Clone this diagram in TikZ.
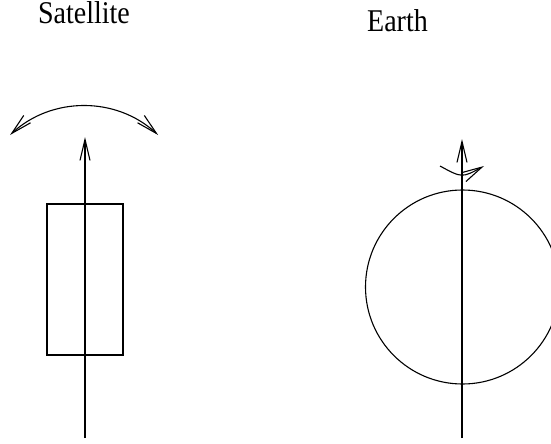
\documentclass[tikz,border=0pt]{standalone}
\usepackage{fontspec}
\setmainfont{Liberation Serif}
\usetikzlibrary{arrows.meta}
\begin{document}
\begin{tikzpicture}[x=1pt,y=-1pt,
  line/.style={line width=1.1pt,black},
  vtip/.style={-{Straight Barb[length=21pt,width=10pt,line width=1.1pt]}},
  vtips/.style={{Straight Barb[length=21pt,width=10pt,line width=1.1pt]}-{Straight Barb[length=21pt,width=10pt,line width=1.1pt]}},
  lbl/.style={anchor=base,inner sep=0pt,font=\fontsize{28}{30}\selectfont}]
\useasboundingbox (0,0) rectangle (551,444);
% labels
\node[lbl] (sat) at (84,24) {\scalebox{1}[1.13]{Satellite}};
\node[lbl] (earth) at (397.5,31.5) {\scalebox{1}[1.13]{Earth}};
% satellite
\coordinate (sb) at (85,438);
\coordinate (st) at (85,137);
\draw[line] (47,204) rectangle (123,355);
\draw[line,vtip] (sb) -- (st);
\coordinate (al) at (10,135);
\draw[line,vtips] (al) arc[start angle=227.2,end angle=312.8,radius=109];
% earth
\node[draw,line width=1.1pt,circle,minimum size=194pt,inner sep=0pt] (globe) at (462.5,287) {};
\coordinate (eb) at (462,438);
\coordinate (et) at (462,139);
\draw[line,vtip] (eb) -- (et);
\coordinate (rl) at (440,166);
\coordinate (rr) at (484,166);
\draw[line,vtip] (rl) .. controls (462,178) .. (rr);
\end{tikzpicture}
\end{document}
